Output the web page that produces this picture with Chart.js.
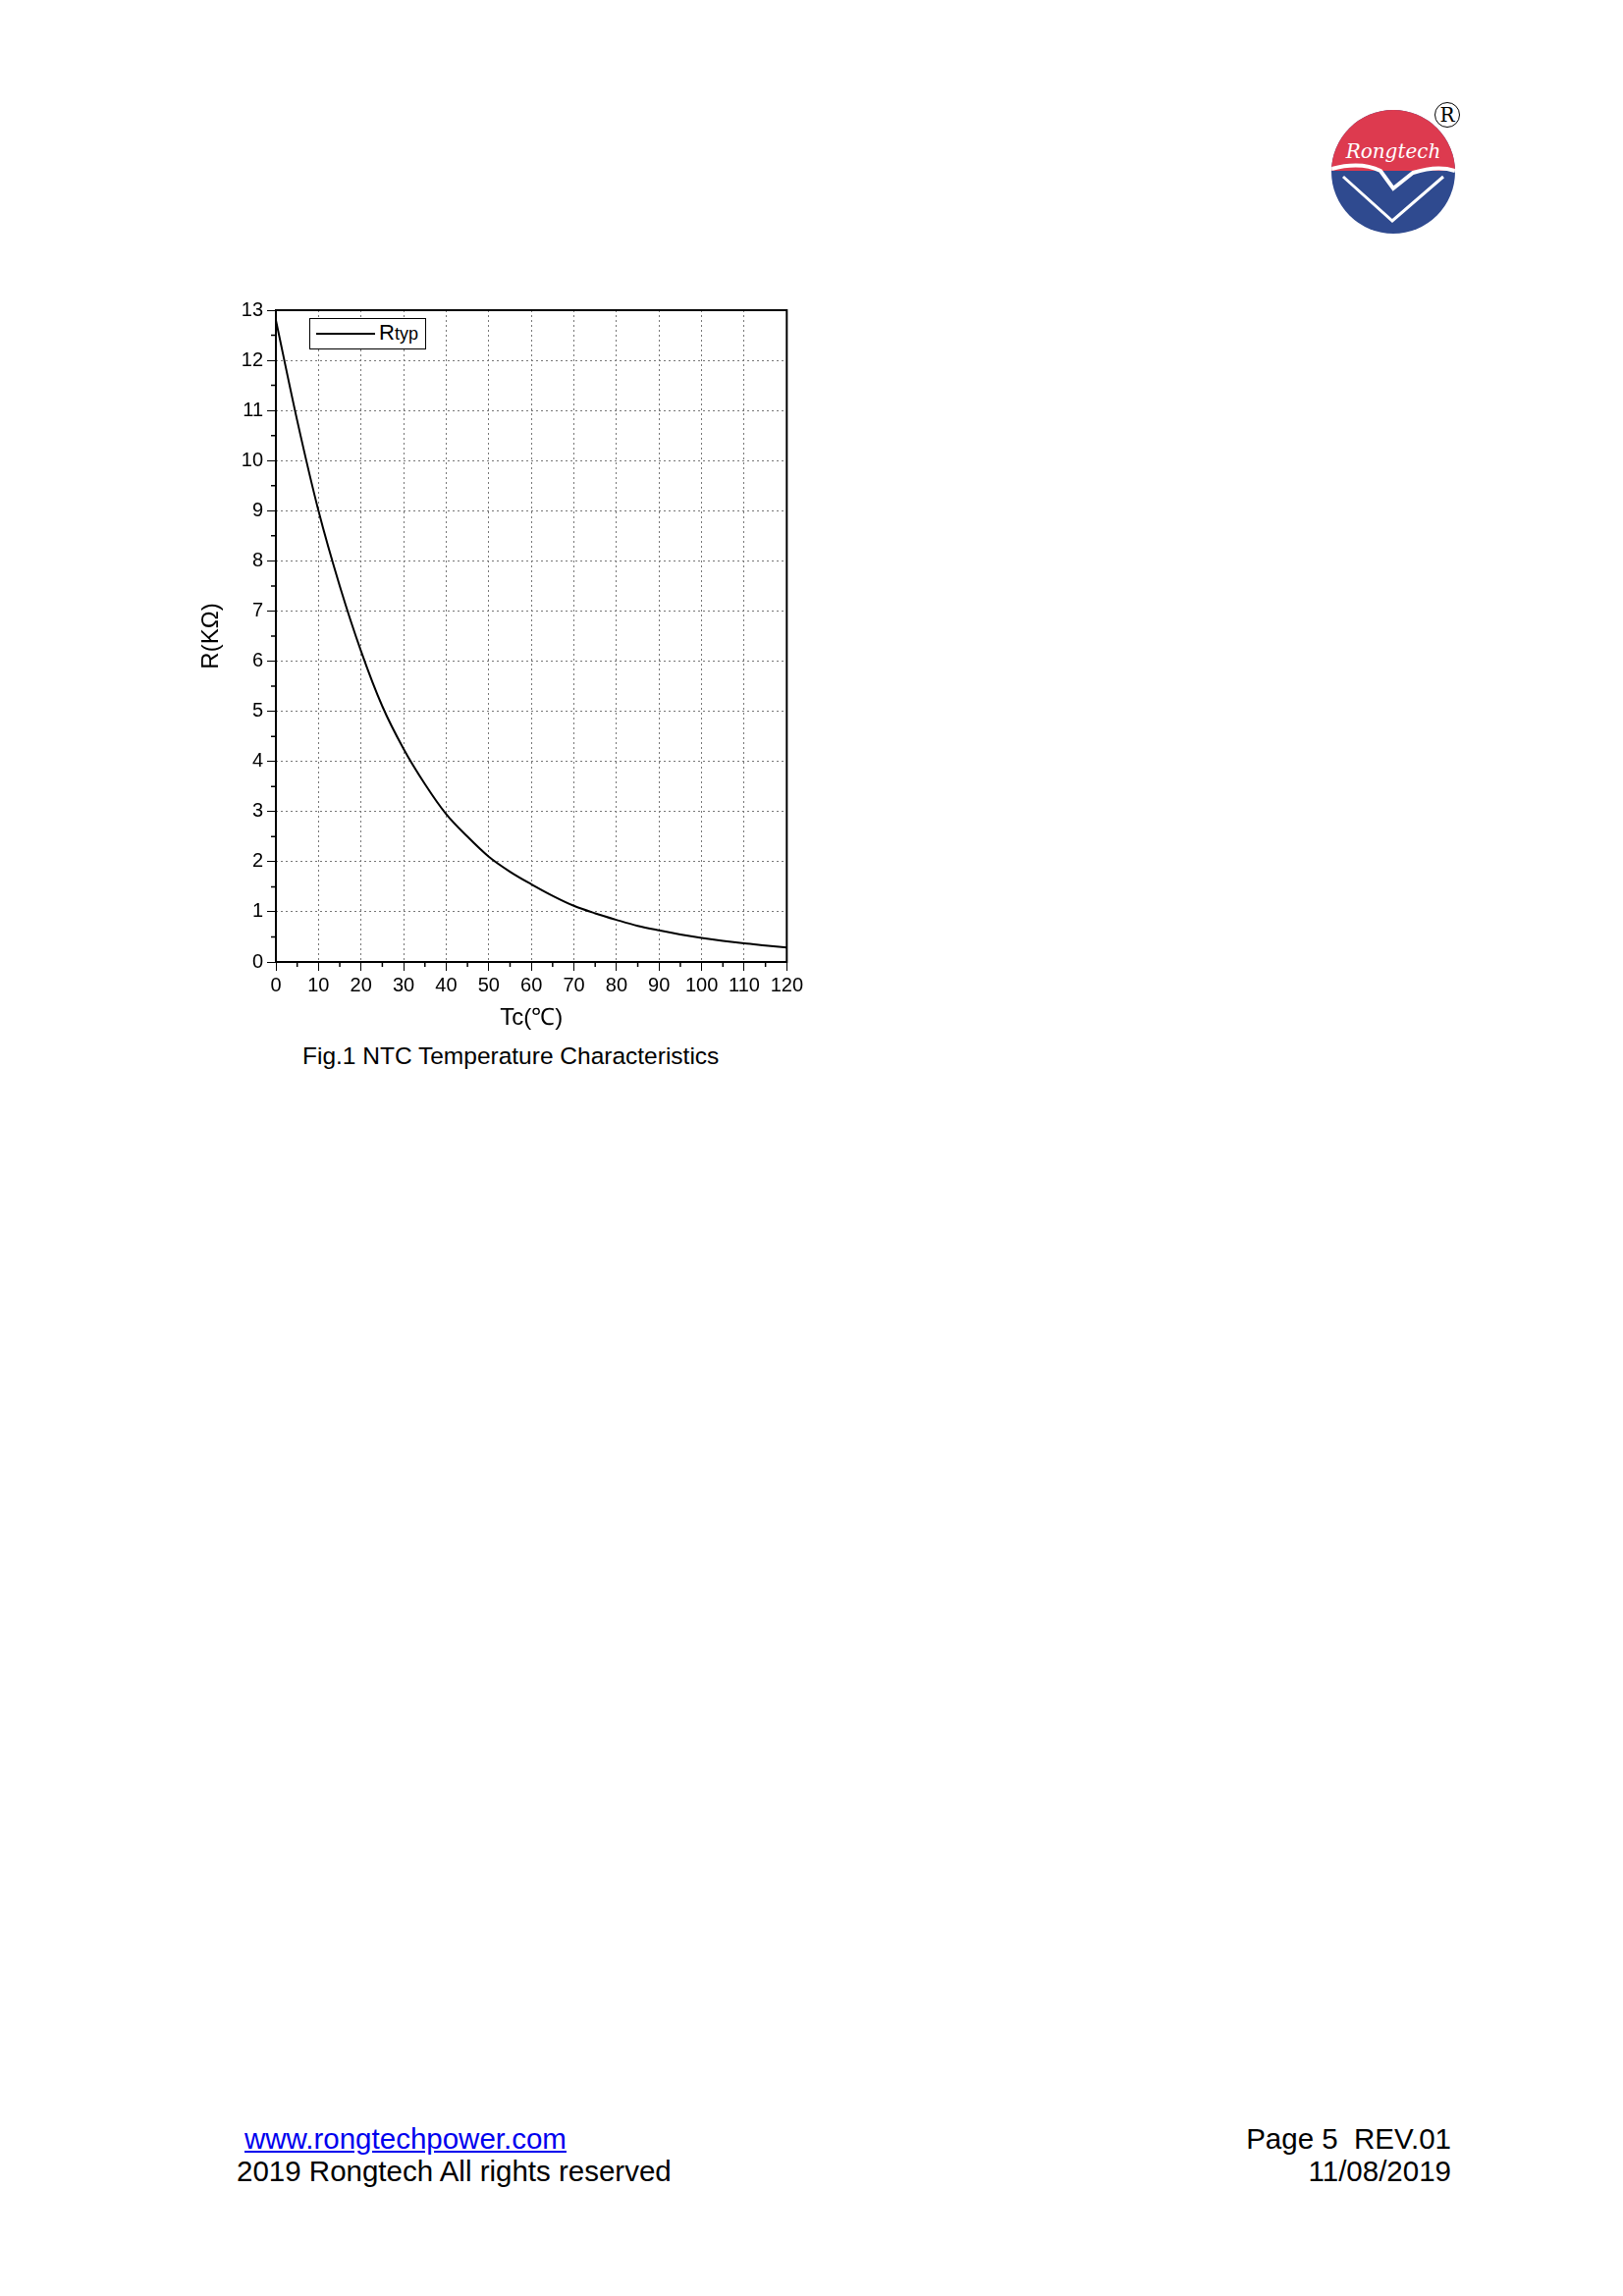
<!DOCTYPE html>
<html>
<head>
<meta charset="utf-8">
<script src="https://cdn.jsdelivr.net/npm/chart.js@4/dist/chart.umd.min.js"></script>
<style>
  body { margin:0; width:1653px; height:2339px; background:#fff; position:relative; font-family:Arial, "Liberation Sans", sans-serif; }
  #wrap { position:absolute; left:201px; top:300px; width:620px; height:752px; }
  .abs { position:absolute; color:#000; }
  #legend { left:315px; top:324px; width:117px; height:30px; border:1px solid #000; background:#fff; font-size:22px; }
  #legend span.line { position:absolute; left:6px; top:14px; width:60px; border-top:2px solid #000; }
  #legend span.txt { position:absolute; left:70px; top:1px; }
  #caption { left:308px; top:1062px; font-size:24.5px; }
  #logo { left:1356px; top:112px; width:126px; height:126px; border-radius:50%; overflow:hidden; background:#2f4a8f; }
  #logo .red { position:absolute; left:0; top:0; width:130px; height:62px; background:#dd3a4f; }
  #logo .txt { position:absolute; left:0; width:126px; top:30px; text-align:center; color:#fff; font-family:"DejaVu Serif", serif; font-style:italic; font-size:20px; }
  #reg { left:1461px; top:104px; font-size:20px; width:24px; height:24px; border:1.5px solid #000; border-radius:50%; text-align:center; line-height:24px; font-family:"DejaVu Serif", serif; }
  .foot { font-size:29.5px; }
</style>
</head>
<body>
<div class="abs" id="logo"><div class="red"></div><div class="txt">Rongtech</div>
  <svg style="position:absolute;left:0;top:0" width="126" height="126"><path d="M0 60 Q30 52 50 62 L63 80 L83 64 Q108 56 126 62" stroke="#fff" stroke-width="4" fill="none"/><path d="M12 68 L62 113 L114 68" stroke="#fff" stroke-width="3" fill="none"/></svg>
</div>
<div class="abs" id="reg">R</div>
<div id="wrap"><canvas id="chart"></canvas></div>
<div class="abs" id="legend"><span class="line"></span><span class="txt">R<span style="font-size:18px">typ</span></span></div>
<div class="abs" id="caption">Fig.1 NTC Temperature Characteristics</div>
<div class="abs foot" style="left:249px;top:2162px;color:#0000ee;text-decoration:underline;">www.rongtechpower.com</div>
<div class="abs foot" style="left:241px;top:2195px;">2019 Rongtech All rights reserved</div>
<div class="abs foot" style="right:165px;top:2162px;text-align:right;margin-right:10px;">Page 5&nbsp; REV.01</div>
<div class="abs foot" style="right:165px;top:2195px;text-align:right;margin-right:10px;">11/08/2019</div>
<script>
const temps = [0,5,10,15,20,25,30,35,40,45,50,55,60,65,70,75,80,85,90,95,100,105,110,115,120];
const rTyp = [12.8,10.8,9.0,7.5,6.2,5.1,4.25,3.55,2.95,2.5,2.1,1.8,1.55,1.32,1.12,0.97,0.84,0.72,0.63,0.55,0.48,0.42,0.37,0.33,0.29];

// frame + minor ticks, Origin style
const framePlugin = {
  id: 'frame',
  afterDraw(chart) {
    const {ctx, chartArea: a, scales} = chart;
    ctx.save();
    ctx.strokeStyle = '#000';
    ctx.lineWidth = 2;
    ctx.strokeRect(a.left, a.top, a.right - a.left, a.bottom - a.top);
    ctx.lineWidth = 1.5;
    ctx.beginPath();
    for (let v = 5; v < 120; v += 10) {
      let x = scales.x.getPixelForValue(v);
      ctx.moveTo(x, a.bottom); ctx.lineTo(x, a.bottom + 5);
    }
    for (let v = 0.5; v < 13; v += 1) {
      let y = scales.y.getPixelForValue(v);
      ctx.moveTo(a.left, y); ctx.lineTo(a.left - 5, y);
    }
    ctx.stroke();
    ctx.restore();
  }
};

new Chart(document.getElementById('chart'), {
  type: 'line',
  data: {
    datasets: [{
      label: 'Rtyp',
      data: temps.map((t, i) => ({x: t, y: rTyp[i]})),
      borderColor: '#000',
      borderWidth: 2,
      pointRadius: 0,
      cubicInterpolationMode: 'monotone'
    }]
  },
  options: {
    responsive: true,
    maintainAspectRatio: false,
    animation: false,
    layout: { padding: { top: 12, right: 14 } },
    plugins: { legend: { display: false }, tooltip: { enabled: false } },
    scales: {
      x: {
        type: 'linear', min: 0, max: 120,
        afterFit(s) { s.height = 72; },
        ticks: { stepSize: 10, color: '#000', font: { size: 20 }, maxRotation: 0, padding: 3 },
        grid: { color: '#777', lineWidth: 1, tickLength: 9, tickColor: '#000' },
        border: { display: false, dash: [2, 3] },
        title: { display: true, text: 'Tc(℃)', color: '#000', font: { size: 24 }, padding: 0 }
      },
      y: {
        min: 0, max: 13,
        afterFit(s) { s.width = 80; },
        ticks: { stepSize: 1, color: '#000', font: { size: 20 }, padding: 4 },
        grid: { color: '#777', lineWidth: 1, tickLength: 9, tickColor: '#000' },
        border: { display: false, dash: [2, 3] },
        title: { display: true, text: 'R(KΩ)', color: '#000', font: { size: 24 }, padding: 0 }
      }
    }
  },
  plugins: [framePlugin]
});
</script>
</body>
</html>
